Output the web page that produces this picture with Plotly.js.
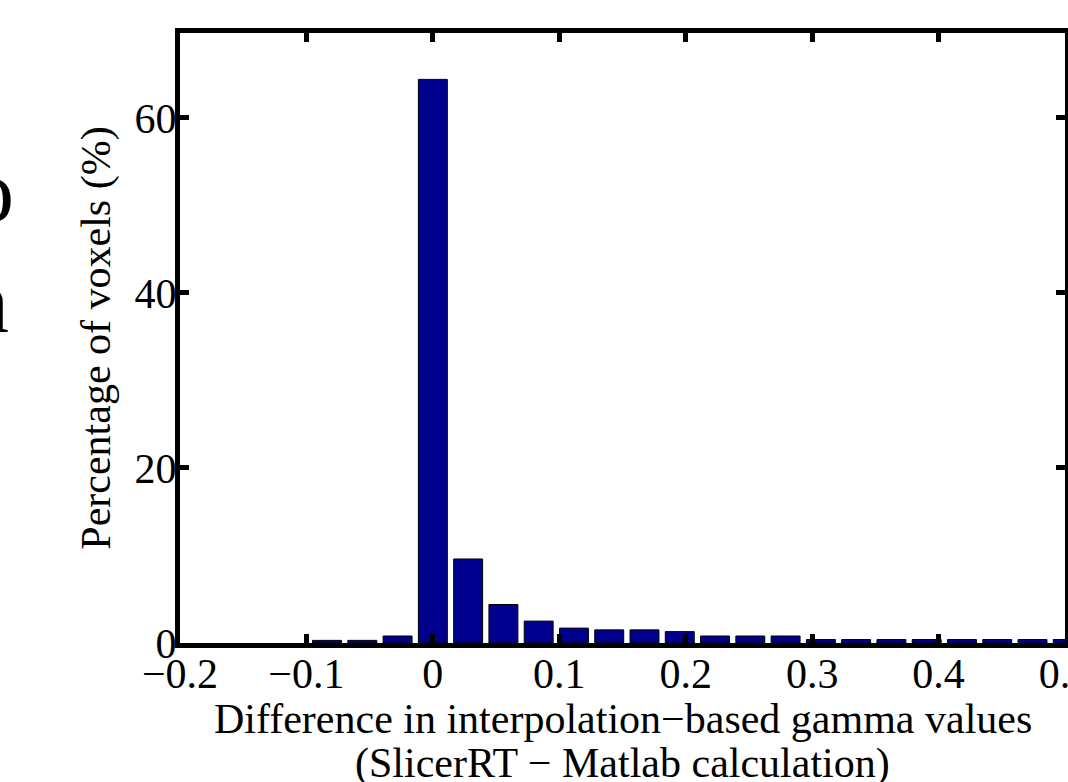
<!DOCTYPE html>
<html>
<head>
<meta charset="utf-8">
<script src="https://cdn.plot.ly/plotly-3.0.1.min.js"></script>
<style>
  html, body { margin: 0; padding: 0; background: #ffffff; }
  #chart { width: 1068px; height: 782px; }
</style>
</head>
<body>
<div id="chart"></div>
<script>
// Histogram bin centres (gamma difference) and percentage of voxels
const binCenters = [-0.0837, -0.0558, -0.0279, 0, 0.0279, 0.0558, 0.0837, 0.1116, 0.1395, 0.1674, 0.1953,
                    0.2232, 0.2511, 0.279, 0.3069, 0.3348, 0.3627, 0.3906, 0.4185, 0.4464, 0.4743, 0.5022];
const voxelPercent = [0.3, 0.3, 0.8, 64.4, 9.6, 4.4, 2.5, 1.7, 1.5, 1.5, 1.3,
                      0.8, 0.8, 0.8, 0.4, 0.4, 0.4, 0.4, 0.4, 0.4, 0.4, 0.4];
const xTickVals = [-0.2, -0.1, 0, 0.1, 0.2, 0.3, 0.4, 0.5];
const yTickVals = [0, 20, 40, 60];
const xTitleLines = ["Difference in interpolation\u2212based gamma values", "(SlicerRT \u2212 Matlab calculation)"];
const yTitle = "Percentage of voxels (%)";
const sideTexts = ["o", "n"];

const serif = "Liberation Serif, Times New Roman, serif";

const trace = {
  type: "bar",
  x: binCenters,
  y: voxelPercent,
  marker: { color: "#00008f", line: { color: "#000000", width: 1 } },
  hoverinfo: "x+y",
  cliponaxis: true
};

const W = 1068, H = 782;
const margin = { l: 180, r: 3, t: 33, b: 139, pad: 0 };
const pw = W - margin.l - margin.r, ph = H - margin.t - margin.b;
function px2paperX(px) { return (px - margin.l) / pw; }
function px2paperY(py) { return (H - margin.b - py) / ph; }

const axisCommon = {
  showline: true, linecolor: "#000000", linewidth: 5, mirror: "ticks",
  ticks: "inside", ticklen: 9, tickwidth: 5, tickcolor: "#000000",
  showgrid: false, zeroline: false,
  tickfont: { family: serif, size: 42, color: "#000000" },
  ticklabeloverflow: "allow",
  automargin: false
};

const titleFont = { family: serif, size: 42, color: "#000000" };

const layout = {
  width: W, height: H,
  margin: margin,
  paper_bgcolor: "#ffffff", plot_bgcolor: "#ffffff",
  showlegend: false,
  bargap: 0.18,
  font: { family: serif, color: "#000000" },
  xaxis: Object.assign({}, axisCommon, {
    range: [-0.2, 0.5],
    tickmode: "array", tickvals: xTickVals,
    ticklabelstandoff: -10
  }),
  yaxis: Object.assign({}, axisCommon, {
    range: [0, 69.7],
    tickmode: "array", tickvals: yTickVals,
    ticklabelstandoff: -10,
    title: { text: yTitle, font: titleFont, standoff: 12 }
  }),
  annotations: [
    { text: xTitleLines[0], xref: "paper", yref: "paper", x: 0.5, y: px2paperY(719),
      xanchor: "center", yanchor: "middle", showarrow: false, font: titleFont },
    { text: xTitleLines[1], xref: "paper", yref: "paper", x: 0.5, y: px2paperY(763),
      xanchor: "center", yanchor: "middle", showarrow: false, font: titleFont },
    { text: sideTexts[0], xref: "paper", yref: "paper", x: px2paperX(16), y: px2paperY(191),
      xanchor: "right", yanchor: "middle", showarrow: false,
      font: { family: serif, size: 88, color: "#000000" } },
    { text: sideTexts[1], xref: "paper", yref: "paper", x: px2paperX(11), y: px2paperY(302),
      xanchor: "right", yanchor: "middle", showarrow: false,
      font: { family: serif, size: 88, color: "#000000" } }
  ]
};

Plotly.newPlot("chart", [trace], layout, { displayModeBar: false, staticPlot: true });
</script>
</body>
</html>
